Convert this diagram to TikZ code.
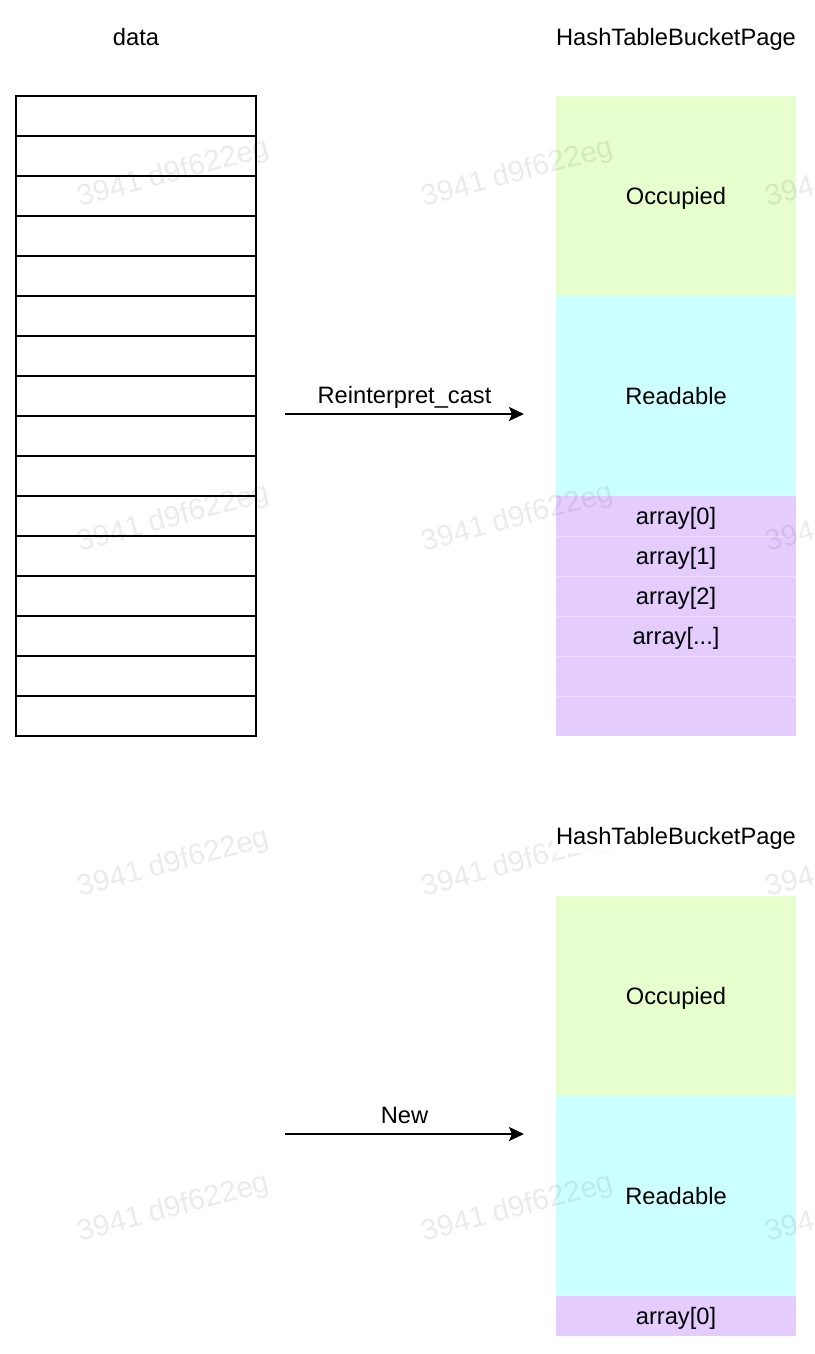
\documentclass[tikz,border=0pt]{standalone}
\usepackage{fontspec}
\setmainfont{Liberation Sans}
\usetikzlibrary{arrows.meta}
\definecolor{occ}{HTML}{E6FFCC}
\definecolor{rdb}{HTML}{CCFFFF}
\definecolor{arr}{HTML}{E5CCFF}
\begin{document}
\begin{tikzpicture}[x=1pt,y=-1pt,
  every node/.style={font=\fontsize{23.7}{28}\selectfont, inner sep=0pt, outer sep=0pt, text height=17pt, text depth=0pt},
  cell/.style={draw=black, line width=2pt, minimum width=240pt, minimum height=40pt, anchor=north west},
  seg/.style={draw=none, minimum width=240pt, anchor=north west},
  occseg/.style={seg, fill=occ, minimum height=200pt},
  rdbseg/.style={seg, fill=rdb, minimum height=200pt},
  arrseg/.style={seg, fill=arr, minimum height=40pt},
  sepline/.style={white, opacity=0.35, line width=1pt},
  lbl/.style={anchor=base},
  title/.style={anchor=base, fill=white, fill opacity=0.85, text opacity=1, inner sep=3pt, text depth=5pt},
  conn/.style={line width=2pt, -{Stealth[length=15pt, width=14pt, inset=3pt]}},
  wm/.style={font=\fontsize{29.5}{32}\selectfont, text=black, opacity=0.08, rotate=15, text height=21pt}
]
\useasboundingbox (0,0) rectangle (814,1354);
\clip (0,0) rectangle (814,1354);

% data column
\foreach \i in {0,...,15} {
  \node[cell] (d\i) at (16,96+40*\i) {};
}

% top page
\node[occseg] (occA) at (556,96) {Occupied};
\node[rdbseg] (rdbA) at (556,296) {Readable};
\node[arrseg] (a0) at (556,496) {array[0]};
\node[arrseg] (a1) at (556,536) {array[1]};
\node[arrseg] (a2) at (556,576) {array[2]};
\node[arrseg] (a3) at (556,616) {array[...]};
\node[arrseg] (a4) at (556,656) {};
\node[arrseg] (a5) at (556,696) {};
\foreach \k in {1,...,5} {
  \draw[sepline] (a\k.north west) -- (a\k.north east);
}

% bottom page
\node[occseg] (occB) at (556,896) {Occupied};
\node[rdbseg] (rdbB) at (556,1096) {Readable};
\node[arrseg] (b0) at (556,1296) {array[0]};

% connectors
\coordinate (castS) at (285,414);
\coordinate (castE) at (524,414);
\draw[conn] (castS) -- (castE);
\node[lbl] (castlbl) at (404.5,403) {Reinterpret\_cast};

\coordinate (newS) at (285,1134);
\coordinate (newE) at (524,1134);
\draw[conn] (newS) -- (newE);
\node[lbl] (newlbl) at (404.5,1123) {New};

% watermark
\foreach \r [count=\n] in {171,516,861,1206} {
  \node[wm] (wmA\n) at (173,\r) {3941 d9f622eg};
  \node[wm] (wmB\n) at (517,\r) {3941 d9f622eg};
  \node[wm] (wmC\n) at (861,\r) {3941 d9f622eg};
}

% titles
\node[title] (datatitle) at (136,45.5) {data};
\node[title] (toptitle) at (676,45.5) {HashTableBucketPage};
\node[title] (bottitle) at (676,844.5) {HashTableBucketPage};
\end{tikzpicture}
\end{document}
